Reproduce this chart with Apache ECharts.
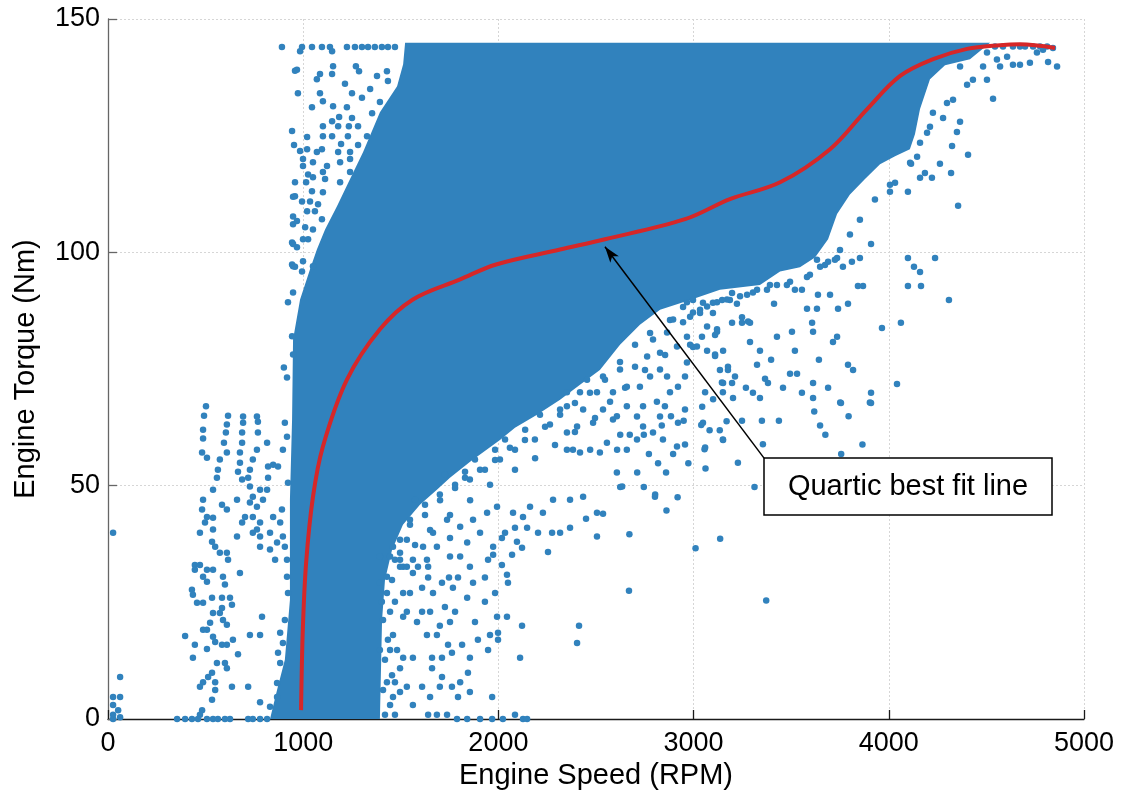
<!DOCTYPE html>
<html><head><meta charset="utf-8">
<script src="https://cdn.jsdelivr.net/npm/echarts@6/dist/echarts.min.js"></script>
<style>html,body{margin:0;padding:0;background:#fff}#c{width:1130px;height:796px}</style>
</head><body><div id="c"></div>
<script>
const xTicks = [0, 1000, 2000, 3000, 4000, 5000];
const yTicks = [0, 50, 100, 150];
const xName = 'Engine Speed (RPM)';
const yName = 'Engine Torque (Nm)';
const noteText = 'Quartic best fit line';

// quartic best-fit line [rpm, Nm]
const fitCurve = [[989,1.9],[998,19.1],[1015,33.5],[1050,47.6],[1101,58.4],[1224,72.7],[1393,83.5],[1562,89.9],[1804,94.2],[1988,97.4],[2316,100.6],[2546,102.8],[2956,107.1],[3186,111.4],[3443,115.0],[3699,122.1],[3889,130.7],[4058,137.8],[4227,141.4],[4401,143.6],[4569,144.4],[4672,144.6],[4852,143.8]];

// outline of the region where the samples merge into a solid mass [rpm, Nm]
const denseCore = [[830,0],[866,6.2],[906,12.7],[932,25.5],[932,47.0],[943,64.2],[948,81.3],[984,89.9],[1035,96.4],[1070,100.6],[1112,104.9],[1173,109.9],[1240,115.7],[1307,121.5],[1393,130.0],[1481,135.6],[1512,140.3],[1522,144.9],[4519,144.9],[4416,141.4],[4288,140.1],[4211,137.1],[4160,130.7],[4134,125.3],[4108,122.1],[4032,120.6],[3955,118.9],[3878,115.7],[3801,112.4],[3735,108.2],[3689,102.8],[3622,98.9],[3545,96.8],[3443,95.9],[3340,93.0],[3135,92.0],[2982,89.8],[2828,87.7],[2725,84.5],[2623,80.2],[2520,74.8],[2418,71.6],[2316,68.4],[2198,65.2],[2085,62.4],[2008,59.8],[1855,55.1],[1752,51.7],[1685,49.1],[1598,45.9],[1511,41.6],[1455,36.2],[1419,29.8],[1404,21.2],[1393,0]];

// scattered samples [rpm, Nm]
const idlePts = [[26,39.9],[62,9.0],[26,4.7],[62,4.7],[26,3.0],[52,1.9],[26,0.9],[62,0.4],[26,0]];
const lowSpeedPts = [[502,67.0],[492,65.0],[487,62.0],[487,60.1],[615,65.0],[609,63.1],[604,61.4],[594,59.2],[609,57.1],[482,57.1],[507,56.0],[573,55.6],[563,53.4],[558,51.7],[538,49.1],[487,47.0],[482,44.9],[507,43.3],[471,39.9],[497,42.1],[538,43.1],[584,45.9],[609,44.9],[538,40.6],[533,38.0],[549,36.9],[573,35.6],[609,35.6],[615,34.1],[445,33.0],[471,33.0],[445,32.0],[507,32.0],[538,32.0],[487,30.5],[507,29.4],[430,27.7],[435,26.6],[456,24.9],[487,24.9],[533,26.0],[589,30.5],[599,28.8],[584,26.0],[625,26.0],[635,24.5],[584,23.8],[573,22.7],[538,22.7],[523,20.6],[507,19.1],[487,19.1],[609,20.2],[589,21.2],[538,17.6],[549,16.5],[584,15.9],[609,15.9],[640,17.0],[395,17.8],[445,15.9],[507,15.0],[435,13.1],[666,13.9],[558,12.0],[599,12.0],[609,10.9],[533,9.9],[513,9.0],[487,7.9],[471,6.9],[549,7.9],[549,6.2],[635,6.9],[718,6.9],[533,4.1],[482,1.9],[471,0.9],
[354,0],[395,0],[430,0],[461,0],[507,0],[538,0],[563,0],[599,0],[625,0],[718,0],[742,0],[779,0],[815,0],
[692,64.8],[692,63.5],[687,61.4],[687,59.2],[676,57.1],[676,54.9],[666,53.0],[687,51.3],[763,64.8],[768,63.7],[768,61.4],[763,57.7],[742,55.6],[727,53.4],[718,51.7],[727,49.8],[742,47.6],[727,46.4],[763,45.5],[702,43.3],[742,43.3],[779,42.1],[687,42.1],[815,59.2],[820,54.1],[820,51.7],[815,49.1],[779,49.1],[794,47.0],[661,39.1],[742,39.9],[779,39.1],[676,31.3],[763,40.6],[779,36.9],[661,47.0],[789,21.9],[727,18.0],[779,18.0],[779,3.6],
[846,43.3],[882,42.1],[830,39.9],[866,37.8],[906,36.9],[830,36.3],[856,34.1],[922,27.0],[906,21.2],[882,18.5],[896,16.3],[871,14.2],[882,12.0],[866,7.7],[866,4.7],[830,2.6],[846,54.5],[871,54.1],[896,57.7],[906,63.5],[917,60.5],[891,44.9],[917,34.1],[917,30.5],[896,39.1],[922,50.6],
[922,89.3],[901,75.3],[917,73.2],[943,97.4],[943,82.0],[948,78.1],[948,91.4],[948,106.0]];
const topLeftPts = [[891,144],[994,144],[1045,144],[1096,144],[1137,144],[1224,144],[1265,144],[1301,144],[1332,144],[1367,144],[1403,144],[1434,144],[1470,144],
[984,143.1],[1148,143.1],[968,139.1],[1153,139.9],[1148,138.2],[1270,139.9],[1286,138.8],[1086,138.2],[1070,137.1],[1378,137.8],[1429,138.8],[1214,136.1],[1343,135.0],[1434,136.7],[973,134.1],[1086,134.1],[1250,134.1],[1301,133.1],[1101,132.4],[1153,131.3],[1045,131.1],[1224,131.1],[1393,132.2],[1353,129.8],[1184,129.0],[1250,128.8],[1148,128.1],[1101,127.0],[1179,127.0],[1234,127.0],[1281,127.0],[943,126.0],[1327,124.9],[1229,124.9],[1148,124.9],[1101,124.9],[1020,124.7],[953,123.0],[1194,123.2],[1281,123.0],[1020,122.1],[984,121.7],[1070,121.5],[1096,122.1],[1179,121.5],[1240,121.5],[999,120.0],[1050,119.3],[1240,120.0],[1122,118.5],[1189,119.3],[999,118.5],[1025,116.7],[1101,117.2],[1240,117.2],[1050,116.1],[958,115.0],[1015,115.0],[1189,115.0],[1112,115.7],[1045,113.1],[958,112.0],[1101,112.9],[994,110.9],[1035,110.9],[1076,110.3],[1020,108.8],[1060,108.8],[948,107.7],[968,106.7],[1096,107.1],[1010,105.4],[1050,104.9],[943,102.1],[968,101.1],[999,102.8],[1025,102.8],[948,97.0],[999,98.1],[1050,97.0],[994,95.9],[958,138.9],[948,111.9],[948,101.8],[958,96.9]];
const lowerMidPts = [[2023,0],[2085,0.9],[2126,0],[2147,0],[1906,0],[1968,0],[1840,0],[1788,0],[1737,0.9],[1685,0.9],[1640,0.9],
[1968,4.7],[1854,5.8],[1793,4.7],[1762,6.9],[1700,6.9],[1609,6.9],[1650,4.7],[1531,6.9],[1496,5.8],[1460,4.7],[1562,3.0],[1470,7.9],[1429,7.9],[1844,9.9],[1804,7.9],[1711,9.0],[1660,10.9],[1660,13.1],[1711,13.1],[1762,14.2],[1854,13.1],[1814,15.9],[1742,15.9],[1685,18.0],[1634,18.0],[1562,13.1],[1512,13.1],[1481,14.8],[1445,14.8],[1496,10.9],[1947,14.8],[1895,17.0],[1957,18.0],[1998,17.0],[1998,18.5],[2111,13.1],[2121,20.0],[2044,21.9],[1993,21.9],[1931,25.1],[1880,20.8],[1778,23.0],[1752,20.8],[1700,20.0],[1650,23.0],[1609,23.0],[1583,20.8],[1531,23.0],[1460,18.0],[1512,21.9],[1445,23.0],[1403,25.1],[1470,25.1],[1512,27.0],[1547,27.0],[1609,28.1],[1726,24.0],[1840,26.0],[1983,27.0],[1931,30.3],[1870,29.2],[1767,28.1],[1665,27.0],[1793,30.3],[1747,30.3],[1711,29.2],[1640,30.3],[1562,31.3],[1512,32.6],[1588,32.6],[1640,32.6],[1752,34.8],[1804,34.8],[1854,32.6],[1947,34.1],[1973,35.2],[2018,33.0],[2049,29.2],[2044,30.9],[2070,35.2],[2121,36.7],[2254,35.8],[2403,16.3],[2413,20.0],[2505,39.1],[2536,44.0],[2449,42.9],[2367,41.0],[2316,39.9],[2275,39.9],[2203,39.9],[2147,41.0],[2085,41.0],[2095,38.0],[2034,39.9],[2018,38.8],[1973,36.9],[1906,39.9],[1840,37.8],[1752,38.8],[1685,36.9],[1634,34.1],[1562,34.1],[1531,32.6],[1496,32.6],[1445,34.8],[1393,34.8],[1429,30.5],[1393,29.2],[1429,27.0],[2634,49.8],[2803,48.1],[2367,47.0],[2434,47.6],[2505,44.2],[2280,47.0],[2228,44.2],[2162,45.5],[2126,43.3],[2075,44.2],[1993,45.5],[1942,44.2],[1870,42.7],[1804,41.2],[1737,42.7],[1665,39.9],[1614,36.9],[1531,38.4],[1460,36.9],[1496,35.6],
[1573,47.0],[1624,45.9],[1547,42.7],[1726,52.4],[1778,50.2],[1829,53.0],[1700,48.1],[1880,55.6],[1931,53.4],[1854,51.3],[1983,57.7],[2034,59.9],[2085,57.7],[2008,55.6],[2137,62.0],[2213,65.2],[2264,63.1],[2187,59.9],[2316,66.3],
[1409,21.2],[1434,17.0],[1419,12.7],[1455,9.4],[1409,6.2],[1445,3.0],[1419,0.9],[1470,0.9],[1393,14.8]];
// edge of the merged mass, where the dots are still close together
const edgePts = [[1470,34.1],[1496,38.4],[1547,41.6],[1624,43.7],[1701,46.9],[1778,49.5],[1829,51.7],[1906,53.4],[1983,55.5],[2059,58.1],[2136,59.8],[2239,62.6],[2316,65.2],[2392,67.7],[2469,69.9],[2546,72.7],[2623,76.5],[2700,80.2],[2777,82.7],[2879,85.5],[3033,87.7],[3186,89.8],
[1455,29.8],[1496,34.1],[1573,37.3],[1650,40.5],[1752,43.7],[1855,46.9],[1957,50.2],[2085,53.4],[2188,55.9],[2290,58.7],[2392,61.5],[2495,64.5],[2572,68.0],[2649,71.0],[2751,74.8],[2854,78.0],[2982,80.2],[3110,82.3],
[3391,93.0],[3494,93.7],[3596,95.2],[3673,97.3],[3750,100.5],[3801,103.8],[3852,107.0],[3929,111.3],[4006,114.5]];
const midRightPts = [[3069,84.1],[3120,83.5],[3248,86.1],[3279,85.2],[3017,79.8],[3110,78.1],[3176,75.5],[3145,72.1],[3059,70.0],[3100,68.5],[3150,70.0],[3212,73.4],[3048,63.5],[3150,59.9],[3059,58.2],[2966,76.4],[2956,73.4],[2920,71.2],[2879,70.0],[2864,73.4],[2828,74.9],[2853,67.0],[2956,66.3],[2920,63.5],[2828,64.8],[2812,68.0],[2741,67.0],[2710,64.8],[2741,62.7],[2792,61.4],[2843,59.9],[2915,58.4],[2710,59.9],[2658,57.7],[2608,57.7],[2556,59.2],[2520,57.1],[2470,57.7],[2418,57.1],[2382,57.7],[2351,57.7],[2351,61.4],[2403,62.7],[2485,63.5],[2587,64.2],[2658,67.0],[2536,66.3],[2434,66.3],[2351,67.0],[2725,71.2],[2658,71.2],[2587,70.0],[2505,70.0],[2418,70.0],[2351,70.0],[2777,73.4],[2700,75.5],[2623,74.9],[2536,73.4],[2454,72.7],[2828,78.5],[2762,77.7],[2915,79.8],[2864,82.8],[2792,81.3],[2946,85.0],[2997,87.1],[3069,88.4],[3120,89.3],[3171,89.9],[3238,90.6],[3304,91.4],[2966,89.3],[2895,85.6],
[3618,65.9],[3751,67.8],[3903,67.8],[3794,64.9],[3648,62.9],[3675,60.9],[3865,58.8],[3756,56.8],[3312,49.7],[3169,63.8],[3151,59.8],[3134,61.9],[3082,61.9],[3056,57.8],[3061,53.7],[3044,66.9],[3039,63.0],[2973,54.8],[2956,58.8],[2949,63.9],[2918,47.5],[2861,44.7],[2802,47.6],[2745,49.7],[2671,39.6],[2669,27.5],[3010,36.6],[3136,38.6],[3372,25.4],[2859,52.8],[2895,56.8],[2884,64.9],[2837,62.9],[2818,54.8],[2771,56.8],[2745,60.9],[2673,60.9],[2624,60.9],[2607,64.9],[2607,52.8],[2624,49.7],[2711,52.8]];
const rightPts = [[3909,101.8],[3852,98.8],[3811,98.0],[3765,96.9],[3735,98.8],[3689,98.0],[3648,96.9],[3842,92.8],[3868,92.8],[3699,90.9],[3637,90.9],[3791,89.0],[3740,87.9],[3632,87.9],[3581,87.9],[3412,89.0],[3274,90.9],[3222,89.0],[3607,84.9],[3612,83.0],[3504,83.0],[3427,81.9],[3289,80.8],[3735,81.9],[3714,80.8],[3519,78.9],[3340,78.9],[3151,78.9],[3110,77.8],[3069,78.9],[3642,77.0],[3397,77.0],[3325,75.9],[3791,75.9],[3817,74.8],[3135,74.8],[3176,74.8],[3494,74.0],[3530,74.0],[3366,72.9],[3381,72.0],[3151,72.0],[3197,72.0],[3612,72.0],[3689,71.0],[3458,71.0],[3268,71.0],[3304,69.9],[3340,68.8],[3555,69.9],[3612,68.8],[3202,68.8],[3909,69.9],[3909,67.7],[3755,67.7],[3437,63.9],[3350,63.9],[3248,63.9],[3355,58.9],[3227,54.9],
[3099,87.0],[3197,84.9],[3248,84.9],[3289,84.9],[3120,83.0],[3043,81.9],[2966,81.9],[2997,79.7],
[3325,92.0],[3376,92.0],[3427,93.0],[3478,93.0],[3519,92.0],[3555,92.0],[3581,94.7],[3724,98.4],[3632,98.4],[3197,91.3],[3146,89.8],[3099,89.2],[3048,89.2],[2997,89.8],[2946,88.3],[3033,87.0],[2982,86.2],
[4324,122.8],[4406,120.9],[4262,119.0],[4114,119.0],[4185,117.0],[4319,117.0],[4160,116.0],[4221,116.0],[4032,114.9],[4006,113.0],[4098,113.0],[4355,110.0],[4098,98.8],[4237,98.8],[4129,96.9],[4160,95.8],[4098,92.8],[4165,92.8],[4308,89.8],[3965,83.8],[4062,84.9],[4042,71.8]];
const topRightPts = [[4503,137.0],[4534,132.9],[4483,139.8],[4570,139.8],[4636,140.2],[4672,140.2],[4723,140.6],[4759,142.8],[4816,140.8],[4862,139.8],[4790,143.4],[4554,141.3],[4606,141.9],[4503,142.8],[4636,144.1],[4739,144.1],[4841,143.8],[4365,128.0],[4349,125.8],[4226,129.9],[4278,128.8],[4298,132.0],[4401,135.9],[4431,137.0],[4365,139.8],[4329,132.7],[4196,125.6],[4160,123.5],[4145,120.5],[4109,119.2],[4211,126.9],
[4544,144.1],[4585,144.1],[4672,144.1],[4698,144.1],[4775,144.1],[4811,144.1]];

// arrow of the annotation: from the note box corner to the fitted line
const arrowFrom = [3361, 55.9];
const arrowTo = [2546, 101.2];

const BLUE = '#3182bd';
const RED = '#d62728';
const FONT = '"Liberation Sans", Arial, sans-serif';
const allPts = [].concat(idlePts, lowSpeedPts, topLeftPts, lowerMidPts, edgePts, midRightPts, rightPts, topRightPts);

const chart = echarts.init(document.getElementById('c'), null, {renderer: 'canvas'});
const splitStyle = {show: true, lineStyle: {color: '#d6d6d6', type: [2, 2], width: 1}};
chart.setOption({
  animation: false,
  backgroundColor: '#fff',
  grid: {left: 108, right: 46, top: 19, bottom: 77, containLabel: false},
  xAxis: {
    type: 'value',
    min: xTicks[0], max: xTicks[xTicks.length - 1], interval: xTicks[1] - xTicks[0],
    name: xName, nameLocation: 'middle', nameGap: 42,
    nameTextStyle: {fontFamily: FONT, fontSize: 29, color: '#000'},
    axisLine: {show: true, onZero: false, lineStyle: {color: '#1a1a1a', width: 1.3}},
    axisTick: {show: true, inside: true, length: 9, lineStyle: {color: '#1a1a1a', width: 1.3}},
    axisLabel: {fontFamily: FONT, fontSize: 27, color: '#000', margin: 11, formatter: function (v) { return String(v); }},
    splitLine: splitStyle
  },
  yAxis: {
    type: 'value',
    min: yTicks[0], max: yTicks[yTicks.length - 1], interval: yTicks[1] - yTicks[0],
    name: yName, nameLocation: 'middle', nameGap: 68, nameRotate: 90,
    nameTextStyle: {fontFamily: FONT, fontSize: 29, color: '#000'},
    axisLine: {show: true, onZero: false, lineStyle: {color: '#666', width: 1.3}},
    axisTick: {show: true, inside: true, length: 9, lineStyle: {color: '#666', width: 1.3}},
    axisLabel: {fontFamily: FONT, fontSize: 27, color: '#000', margin: 8, formatter: function (v) { return String(v); }},
    splitLine: splitStyle
  },
  series: [
    {
      type: 'custom',
      z: 2,
      silent: true,
      data: [[0, 0]],
      renderItem: function (params, api) {
        return {
          type: 'polygon',
          shape: {points: denseCore.map(function (p) { return api.coord(p); })},
          style: {fill: BLUE}
        };
      }
    },
    {
      type: 'scatter',
      z: 3,
      silent: true,
      symbol: 'circle',
      symbolSize: 6.5,
      itemStyle: {color: BLUE, opacity: 1},
      data: allPts
    },
    {
      type: 'line',
      z: 5,
      silent: true,
      data: fitCurve,
      smooth: 0.35,
      showSymbol: false,
      lineStyle: {color: RED, width: 4},
      markLine: {
        silent: true,
        animation: false,
        symbol: ['none', 'arrow'],
        symbolSize: [8, 16],
        label: {show: false},
        lineStyle: {color: '#000', width: 1.5, type: 'solid'},
        data: [[{coord: arrowFrom}, {coord: arrowTo}]]
      }
    }
  ],
  graphic: [
    {type: 'rect', z: 100, shape: {x: 764, y: 458, width: 288, height: 57},
     style: {fill: '#fff', stroke: '#000', lineWidth: 1.5}},
    {type: 'text', z: 101, x: 908, y: 487,
     style: {text: noteText, fontFamily: FONT, fontSize: 29, fill: '#000', align: 'center', verticalAlign: 'middle', textAlign: 'center', textVerticalAlign: 'middle'}}
  ]
});
</script>
</body></html>
